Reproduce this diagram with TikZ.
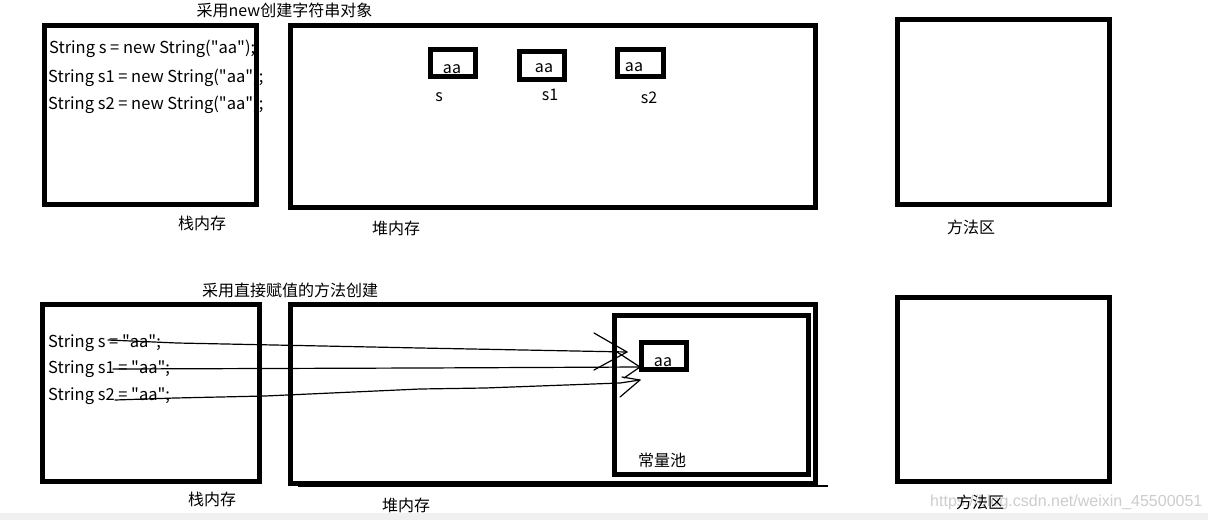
\documentclass[tikz,border=0pt]{standalone}
\usepackage{fontspec}
\setmainfont{Noto Sans CJK SC}
\newfontfamily\codefont{Noto Sans CJK SC}
\newfontfamily\wmfont{Liberation Sans}
\definecolor{band}{RGB}{240,240,240}
\definecolor{wm}{RGB}{205,205,205}
\begin{document}
\begin{tikzpicture}[x=1pt,y=-1pt,
  membox/.style={draw,line width=5pt,inner sep=0pt,rectangle},
  cjk/.style={font=\fontsize{16}{19}\selectfont,inner sep=0pt},
  code/.style={font=\codefont\fontsize{16.5}{20}\selectfont,inner sep=0pt,anchor=base west},
  small/.style={font=\codefont\fontsize{16}{19}\selectfont,inner sep=0pt,anchor=base},
  ptr/.style={line width=1.2pt,line join=round,line cap=round}]
\useasboundingbox (0,0) rectangle (1208,520);
\fill[white] (0,0) rectangle (1208,520);
\fill[band] (0,513) rectangle (1208,520);

% ---------- top part ----------
\node[cjk] (title1) at (284.5,10) {采用new创建字符串对象};
\node[code] (c1) at (49,53) {String s = new String("aa");};
\node[code] (c2) at (48,82) {String s1 = new String("aa");};
\node[code] (c3) at (48,109) {String s2 = new String("aa");};

\node[membox,minimum width=212pt,minimum height=179pt] (stack1) at (150.5,115) {};
\node[membox,minimum width=525pt,minimum height=182pt] (heap1) at (553,116.5) {};
\node[membox,minimum width=212pt,minimum height=185pt] (method1) at (1003.5,112) {};

\node[membox,minimum width=45pt,minimum height=27pt] (b1) at (453,63) {};
\node[membox,minimum width=45pt,minimum height=28pt] (b2) at (542,65.5) {};
\node[membox,minimum width=46pt,minimum height=27pt] (b3) at (640.5,63) {};
\node[small] (aa1) at (452,73) {aa};
\node[small] (aa2) at (544,72) {aa};
\node[small] (aa3) at (634,71) {aa};
\node[small] (ls) at (439,101) {s};
\node[small] (ls1) at (550,100) {s1};
\node[small] (ls2) at (649,103) {s2};

\node[cjk] (lstack1) at (202,223) {栈内存};
\node[cjk] (lheap1) at (396,228) {堆内存};
\node[cjk] (lmethod1) at (971,227) {方法区};

% ---------- bottom part ----------
\node[cjk] (title2) at (290,290) {采用直接赋值的方法创建};
\node[code] (d1) at (48,347) {String s = "aa";};
\node[code] (d2) at (48,373) {String s1 = "aa";};
\node[code] (d3) at (48,400) {String s2 = "aa";};

\node[membox,minimum width=217pt,minimum height=176.5pt] (stack2) at (151,392.75) {};
\node[membox,minimum width=525pt,minimum height=179.5pt] (heap2) at (553,393.75) {};
\coordinate (hl) at (298,486);
\coordinate (hr) at (828,486);
\draw[line width=2pt] (hl) -- (hr);
\node[membox,minimum width=194pt,minimum height=159pt] (pool) at (711.5,395) {};
\node[membox,minimum width=45pt,minimum height=27pt] (poolaa) at (664,356) {};
\node[small] (aa4) at (663,366) {aa};
\node[cjk] (lpool) at (662,460) {常量池};
\node[membox,minimum width=212pt,minimum height=184pt] (method2) at (1003.5,389.5) {};

\node[cjk] (lstack2) at (212,499) {栈内存};
\node[cjk] (lheap2) at (406,505) {堆内存};
\node[font=\wmfont\fontsize{16}{19}\selectfont,text=wm,inner sep=0pt,anchor=west] (wmark) at (930,502) {https://blog.csdn.net/weixin\_45500051};
\node[cjk] (lmethod2) at (980,502) {方法区};

% ---------- pointers ----------
\coordinate (s1) at (108,340);
\coordinate (t1) at (627,352);
\coordinate (s2) at (113,369);
\coordinate (t2) at (640,367);
\coordinate (s3) at (115,400);
\coordinate (t3) at (640,380);
\draw[ptr] (s1) -- (177,343) -- (420,348) -- (t1);
\draw[ptr] (594,333) -- (t1) -- (594,370);
\draw[ptr] (s2) -- (420,368) -- (t2);
\draw[ptr] (617,352) -- (t2) -- (624,378);
\draw[ptr] (s3) -- (175,398) -- (265,396) -- (420,389) -- (485,388) -- (620,383) -- (t3);
\draw[ptr] (622,377) -- (t3) -- (620,397);
\end{tikzpicture}
\end{document}
